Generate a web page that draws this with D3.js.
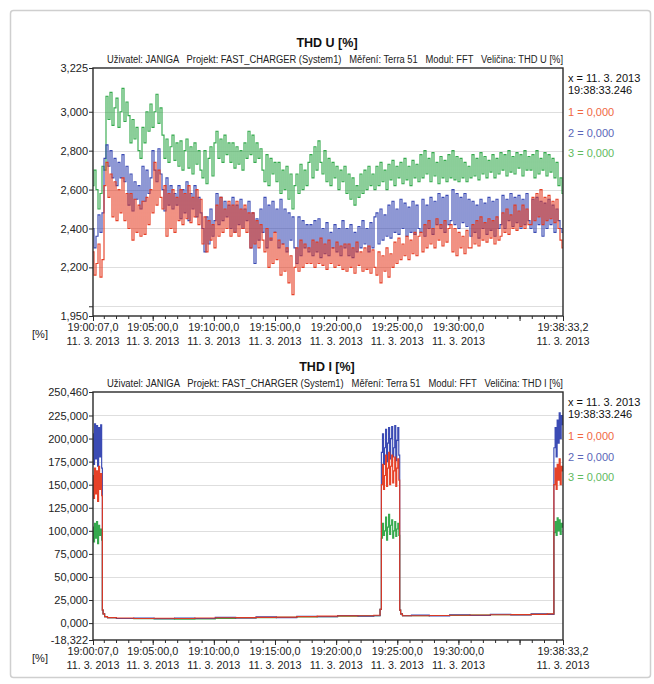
<!DOCTYPE html>
<html><head><meta charset="utf-8">
<script src="https://cdn.jsdelivr.net/npm/d3@7"></script>
<style>
body{margin:0;background:#fff;}
svg{display:block;}
text{font-family:"Liberation Sans",Arial,sans-serif;}
</style></head><body>
<svg id="c" width="654" height="684"></svg>
<script>
// ---------------- DATA ----------------
const seriesKeys = ["1", "2", "3"];
const seriesColors = ["#e5371c", "#3041b0", "#2ba545"];
const legendColors = ["#f0683f", "#5a66b8", "#5fba5f"];
const legendValues = ["0,000", "0,000", "0,000"];
const cursorLine1 = "x = 11. 3. 2013";
const cursorLine2 = "19:38:33.246";

const xTickLabelTimes = ["19:00:07.0", "19:05:00.0", "19:10:00.0", "19:15:00.0", "19:20:00.0", "19:25:00.0", "19:30:00.0", "19:38:33.2"];
const xTickLabels = ["19:00:07,0", "19:05:00,0", "19:10:00,0", "19:15:00,0", "19:20:00,0", "19:25:00,0", "19:30:00,0", "19:38:33,2"];
const xTickDate = "11. 3. 2013";
const xExtraMajor = ["19:35:00.0"];

const titleU = "THD U [%]";
const titleI = "THD I [%]";
const subU = "Uživatel: JANIGA   Projekt: FAST_CHARGER (System1)   Měření: Terra 51   Modul: FFT   Veličina: THD U [%]";
const subI = "Uživatel: JANIGA   Projekt: FAST_CHARGER (System1)   Měření: Terra 51   Modul: FFT   Veličina: THD I [%]";
const unitLabel = "[%]";

const uDomain = [1.950, 3.225];
const uTicks = [3.225, 3.000, 2.800, 2.600, 2.400, 2.200, 2.000, 1.950];
const uTickLabels = ["3,225", "3,000", "2,800", "2,600", "2,400", "2,200", "", "1,950"];
const uGrid = [3.0, 2.8, 2.6, 2.4, 2.2, 2.0];

const iDomain = [-18.322, 250.460];
const iTicks = [250.460, 225, 200, 175, 150, 125, 100, 75, 50, 25, 0, -18.322];
const iTickLabels = ["250,460", "225,000", "200,000", "175,000", "150,000", "125,000", "100,000", "75,000", "50,000", "25,000", "0,000", "-18,322"];
const iGrid = [225, 200, 175, 150, 125, 100, 75, 50, 25, 0];

// THD U, evenly sampled over the whole period (236 samples)
const uGreen = [2.62,2.70,2.60,2.50,2.58,2.72,
  2.70,3.08,2.96,3.10,2.93,3.02,3.07,2.92,3.00,3.12,2.95,3.05,
  2.98,2.84,2.96,2.86,2.92,2.80,2.76,
  2.92,2.84,3.00,2.90,
  3.04,2.92,3.00,3.09,2.94,3.02,
  2.88,2.76,2.86,2.74,2.82,2.88,2.75,2.84,
  2.72,2.85,2.70,2.80,2.86,2.71,2.82,2.68,2.84,2.73,2.80,2.70,
  2.66,2.80,2.63,2.76,2.82,2.67,2.84,
  2.90,2.76,2.86,2.74,2.88,2.78,2.84,
  2.74,2.84,2.71,2.82,2.73,2.80,2.70,2.84,2.76,2.90,
  2.78,2.88,2.74,2.84,2.76,2.81,2.70,
  2.64,2.78,2.62,2.76,2.68,2.74,2.64,
  2.74,2.58,2.70,2.60,2.72,2.55,2.68,2.50,2.62,
  2.68,2.58,2.73,2.60,2.70,2.62,2.74,
  2.78,2.66,2.82,2.70,2.85,2.74,2.68,2.80,2.64,2.76,2.62,2.74,2.66,2.72,2.60,2.70,2.64,2.72,
  2.58,2.68,2.55,2.66,2.52,2.62,2.56,2.68,2.58,2.70,2.60,2.72,2.62,2.68,2.60,
  2.72,2.62,2.74,2.64,2.70,2.60,2.73,2.65,2.75,2.62,2.72,2.66,2.74,2.63,2.76,2.65,2.72,2.62,2.75,2.66,2.73,2.64,
  2.78,2.66,2.80,2.68,2.76,2.64,2.79,2.67,2.74,2.63,2.77,2.66,2.75,2.64,2.78,
  2.66,2.80,2.65,2.77,2.64,2.76,2.66,2.74,2.64,2.72,
  2.66,2.78,2.67,2.76,2.65,2.79,2.68,2.77,2.66,2.75,2.69,2.78,2.66,2.76,2.68,
  2.79,2.70,2.78,2.67,2.80,2.69,2.77,2.68,2.79,2.71,2.78,2.67,2.80,2.70,2.77,
  2.70,2.78,2.66,2.80,2.68,2.76,2.70,2.79,2.67,2.78,2.69,2.76,2.66,2.74,2.62,2.66,2.58];
const uBlue = [2.40,2.30,2.36,2.47,2.38,2.48,
  2.76,2.83,2.72,2.80,2.66,2.76,2.62,2.74,2.66,2.78,2.64,2.72,
  2.52,2.68,2.49,2.64,2.55,2.62,2.50,
  2.72,2.54,2.70,2.58,
  2.66,2.80,2.70,2.64,2.81,2.68,
  2.60,2.49,2.66,2.52,2.62,2.50,2.58,2.52,
  2.62,2.45,2.60,2.48,2.64,2.44,2.58,2.50,2.62,2.46,2.56,2.48,
  2.40,2.28,2.46,2.32,2.50,2.36,2.44,
  2.58,2.42,2.56,2.44,2.54,2.46,2.52,
  2.40,2.56,2.38,2.52,2.42,2.55,2.40,2.50,2.44,2.54,
  2.30,2.48,2.22,2.45,2.34,2.50,2.38,
  2.56,2.30,2.52,2.34,2.54,2.38,2.50,
  2.30,2.55,2.32,2.50,2.28,2.48,2.34,2.46,2.30,
  2.22,2.46,2.26,2.44,2.30,2.42,2.28,
  2.42,2.26,2.44,2.28,2.45,2.25,2.40,2.27,2.43,2.26,2.38,2.30,2.42,2.28,2.40,2.26,2.44,2.30,
  2.40,2.26,2.42,2.25,2.38,2.28,2.41,2.30,2.44,2.32,2.40,2.28,2.43,2.30,2.46,
  2.48,2.32,2.50,2.34,2.47,2.36,2.52,2.35,2.54,2.38,2.50,2.37,2.55,2.40,2.53,2.36,2.51,2.38,2.54,2.37,2.52,2.40,
  2.38,2.55,2.36,2.52,2.40,2.56,2.37,2.54,2.42,2.58,2.40,2.56,2.38,2.57,2.42,
  2.44,2.60,2.42,2.58,2.40,2.56,2.43,2.58,2.41,2.55,
  2.36,2.54,2.38,2.52,2.35,2.55,2.40,2.53,2.37,2.56,2.39,2.54,2.36,2.55,2.40,
  2.42,2.57,2.40,2.55,2.44,2.58,2.41,2.56,2.43,2.57,2.40,2.55,2.42,2.58,2.44,
  2.40,2.55,2.38,2.56,2.42,2.54,2.36,2.53,2.40,2.55,2.42,2.52,2.38,2.50,2.44,2.40,2.38];
const uRed = [2.28,2.16,2.22,2.32,2.15,2.24,
  2.62,2.74,2.56,2.68,2.46,2.64,2.44,2.60,2.48,2.66,2.44,2.58,
  2.40,2.58,2.34,2.55,2.38,2.52,2.36,
  2.54,2.37,2.56,2.42,
  2.60,2.48,2.74,2.52,2.70,2.56,
  2.50,2.62,2.36,2.58,2.40,2.60,2.38,2.56,
  2.44,2.60,2.42,2.58,2.45,2.62,2.43,2.56,2.46,2.60,2.42,2.55,
  2.32,2.46,2.28,2.44,2.34,2.42,2.30,
  2.52,2.36,2.56,2.38,2.50,2.40,2.54,
  2.36,2.52,2.38,2.54,2.36,2.50,2.40,2.52,2.38,2.48,
  2.30,2.48,2.32,2.44,2.30,2.42,2.34,
  2.28,2.40,2.20,2.35,2.22,2.38,2.24,
  2.34,2.16,2.32,2.18,2.30,2.12,2.26,2.06,2.20,
  2.30,2.18,2.34,2.20,2.32,2.22,2.30,
  2.22,2.34,2.20,2.33,2.22,2.35,2.21,2.32,2.19,2.34,2.22,2.30,2.20,2.33,2.21,2.31,2.19,2.32,
  2.18,2.32,2.20,2.30,2.17,2.33,2.21,2.28,2.18,2.30,2.19,2.31,2.17,2.29,2.20,
  2.16,2.28,2.12,2.26,2.18,2.30,2.15,2.27,2.20,2.33,2.22,2.35,2.24,2.32,2.26,2.36,2.24,2.34,2.27,2.38,2.26,2.36,
  2.38,2.28,2.42,2.30,2.44,2.32,2.40,2.30,2.45,2.34,2.42,2.31,2.44,2.33,2.40,
  2.42,2.28,2.40,2.26,2.38,2.30,2.36,2.27,2.39,2.30,
  2.30,2.42,2.32,2.44,2.31,2.46,2.34,2.43,2.33,2.45,2.35,2.44,2.32,2.46,2.34,
  2.36,2.48,2.38,2.50,2.37,2.47,2.40,2.52,2.39,2.49,2.41,2.52,2.40,2.50,2.42,
  2.42,2.56,2.44,2.58,2.46,2.60,2.42,2.56,2.44,2.57,2.45,2.54,2.43,2.55,2.40,2.34,2.30];

// THD I, sample times in seconds after 19:00:07.0
const iTimes = [0,5,10,15,20,25,30,35,40,45, 47,52,62,80,
  150,250,350,450,550,650,750,850,950,1050,1150,1250,1350,1405, 1412,
  1418,1423,1428,1433,1438,1443,1448,1453,1458,1463,1468,1473,1478,1483,1488,1493,1498,1503,
  1507,1512,1525, 1600,1700,1800,1900,2000,2100,2200,2258,
  2265,2270,2275,2280,2285,2290,2295,2300,2306.2];
const iRed = [160,135,168,140,165,132,170,145,162,138, 14,10,7,6,
  5.5,5,5.2,5,5.5,5.8,6,6.2,6.5,7,7.5,7.8,8,8.5, 15,
  150,172,145,160,182,148,168,185,150,170,182,152,165,180,148,168,178,155,
  14,10,8, 8,8.2,8.5,8.8,9,9.2,9.5,10,
  150,168,145,172,155,178,150,170,165];
const iBlue = [205,172,216,178,214,170,212,180,215,168, 14,10,7,6,
  5,5.5,4.8,5.4,5,6.2,5.6,6.8,6,7.4,7,8.2,7.6,8, 15,
  185,205,172,190,210,175,195,212,178,200,213,180,190,214,176,198,212,182,
  14,10,8, 8.6,7.8,9,8.2,9.6,8.8,10,9.5,
  190,212,180,220,195,228,200,225,215];
const iGreen = [104,88,108,92,110,86,106,95,102,90, 14,10,7,6,
  5,4.8,4.5,4.2,4.6,5,5.5,6,6.2,6.8,7,7.5,7.8,8, 15,
  92,108,95,100,115,90,104,118,96,106,112,92,100,110,94,102,108,95,
  14,10,8, 8,8.2,8.4,8.7,9,9.2,9.4,9.8,
  98,110,95,114,100,112,96,108,104];

// ---------------- DRAW ----------------
const svg = d3.select("#c");
const W = 654, H = 684;
const PL = 93, PR = 563;
const parseT = s => { const [h,m,sec] = s.split(":"); const sv = parseFloat(sec);
  return new Date(2013, 2, 11, +h, +m, Math.floor(sv), Math.round((sv - Math.floor(sv))*1000)); };
const t0 = parseT(xTickLabelTimes[0]);
const t1 = parseT(xTickLabelTimes[xTickLabelTimes.length-1]);
const x = d3.scaleTime().domain([t0, t1]).range([PL, PR]);

svg.append("rect").attr("width", W).attr("height", H).style("fill", "#fff");
svg.append("rect").attr("x", 10.5).attr("y", 10.5).attr("width", 640).attr("height", 667).attr("rx", 3)
  .style("fill", "none").style("stroke", "#cfcfcf").style("stroke-width", 1.5);

const defs = svg.append("defs");

function drawChart(cfg, idx) {
  const top = cfg.top, bottom = cfg.bottom;
  const g = svg.append("g");
  const y = d3.scaleLinear().domain(cfg.domain).range([bottom, top]);

  g.append("text").attr("x", 327).attr("y", top - 21).attr("text-anchor", "middle")
    .style("font-weight", "bold").style("font-size", "12.5px").style("fill", "#111").text(cfg.title);
  g.append("text").attr("x", 107).attr("y", top - 5).style("font-size", "10px").style("white-space", "pre")
    .attr("xml:space", "preserve").style("fill", "#222")
    .attr("textLength", 456).attr("lengthAdjust", "spacingAndGlyphs").text(cfg.sub);

  // grid
  g.selectAll("line.grid").data(cfg.grid).join("line").attr("class", "grid")
    .attr("x1", PL).attr("x2", PR).attr("y1", d => Math.round(y(d)) + 0.5).attr("y2", d => Math.round(y(d)) + 0.5)
    .style("stroke", "#dedede").style("stroke-width", 1);

  const cid = "clipPlot" + idx;
  defs.append("clipPath").attr("id", cid).append("rect")
    .attr("x", PL).attr("y", top).attr("width", PR - PL).attr("height", bottom - top);
  const pg = g.append("g").attr("clip-path", `url(#${cid})`);
  [2, 1, 0].forEach(si => {
    const vals = cfg.series[si];
    const line = d3.line().x((d, i) => x(cfg.timeAt(i, vals.length))).y(d => y(d)).curve(d3.curveStep);
    pg.append("path").attr("d", line(vals)).style("fill", "none")
      .style("stroke", seriesColors[si]).style("stroke-width", 1.15).style("stroke-opacity", 0.95);
  });

  // frame
  g.append("rect").attr("x", PL).attr("y", top).attr("width", PR - PL).attr("height", bottom - top)
    .style("fill", "none").style("stroke", "#2a2a2a").style("stroke-width", 1.4);

  // y axis
  const ya = d3.axisLeft(y).tickValues(cfg.ticks).tickFormat((d, i) => cfg.tickLabels[i]).tickSize(4).tickPadding(1);
  const yg = g.append("g").attr("transform", `translate(${PL},0)`).call(ya);
  yg.select(".domain").remove();
  yg.selectAll(".tick line").style("stroke", "#2a2a2a");
  yg.selectAll(".tick text").style("font-size", "11px").style("fill", "#222")
    .style("font-family", "'Liberation Sans',Arial,sans-serif");

  // x axis: minor ticks each minute, major at five-minute marks and ends
  const minor = d3.timeMinute.range(d3.timeMinute.ceil(t0), t1);
  const xg1 = g.append("g").attr("transform", `translate(0,${bottom})`)
    .call(d3.axisBottom(x).tickValues(minor).tickSize(3).tickFormat(""));
  xg1.select(".domain").remove();
  xg1.selectAll(".tick line").style("stroke", "#2a2a2a");
  const majors = xTickLabelTimes.concat(xExtraMajor).map(parseT);
  const xg2 = g.append("g").attr("transform", `translate(0,${bottom})`)
    .call(d3.axisBottom(x).tickValues(majors).tickSize(5).tickFormat(""));
  xg2.select(".domain").remove();
  xg2.selectAll(".tick line").style("stroke", "#2a2a2a");

  const lab = g.append("g");
  xTickLabelTimes.forEach((s, i) => {
    const tx = x(parseT(s));
    lab.append("text").attr("x", tx).attr("y", bottom + 15).attr("text-anchor", "middle")
      .style("font-size", "11.5px").style("fill", "#222")
      .attr("textLength", 51).attr("lengthAdjust", "spacingAndGlyphs").text(xTickLabels[i]);
    lab.append("text").attr("x", tx).attr("y", bottom + 29).attr("text-anchor", "middle")
      .style("font-size", "11.5px").style("fill", "#222")
      .attr("textLength", 53).attr("lengthAdjust", "spacingAndGlyphs").text(xTickDate);
  });
  g.append("text").attr("x", 40).attr("y", bottom + 22).attr("text-anchor", "middle")
    .style("font-size", "11px").style("fill", "#222").text(unitLabel);

  // cursor readout / legend
  const lg = g.append("g");
  lg.append("text").attr("x", 568).attr("y", top + 14).style("font-size", "11px").style("fill", "#111").text(cursorLine1);
  lg.append("text").attr("x", 568).attr("y", top + 26).style("font-size", "11px").style("fill", "#111").text(cursorLine2);
  seriesKeys.forEach((k, i) => {
    lg.append("text").attr("x", 568).attr("y", top + 48 + i * 20.5).style("font-size", "11px")
      .style("fill", legendColors[i]).text(k + " = " + legendValues[i]);
  });
}

const span = t1 - t0;
drawChart({
  top: 68, bottom: 316, domain: uDomain, ticks: uTicks, tickLabels: uTickLabels, grid: uGrid,
  title: titleU, sub: subU, series: [uRed, uBlue, uGreen],
  timeAt: (i, n) => new Date(+t0 + i * span / (n - 1))
}, 0);
drawChart({
  top: 392, bottom: 640, domain: iDomain, ticks: iTicks, tickLabels: iTickLabels, grid: iGrid,
  title: titleI, sub: subI, series: [iRed, iBlue, iGreen],
  timeAt: (i, n) => new Date(+t0 + iTimes[i] * 1000)
}, 1);
</script>
</body></html>
